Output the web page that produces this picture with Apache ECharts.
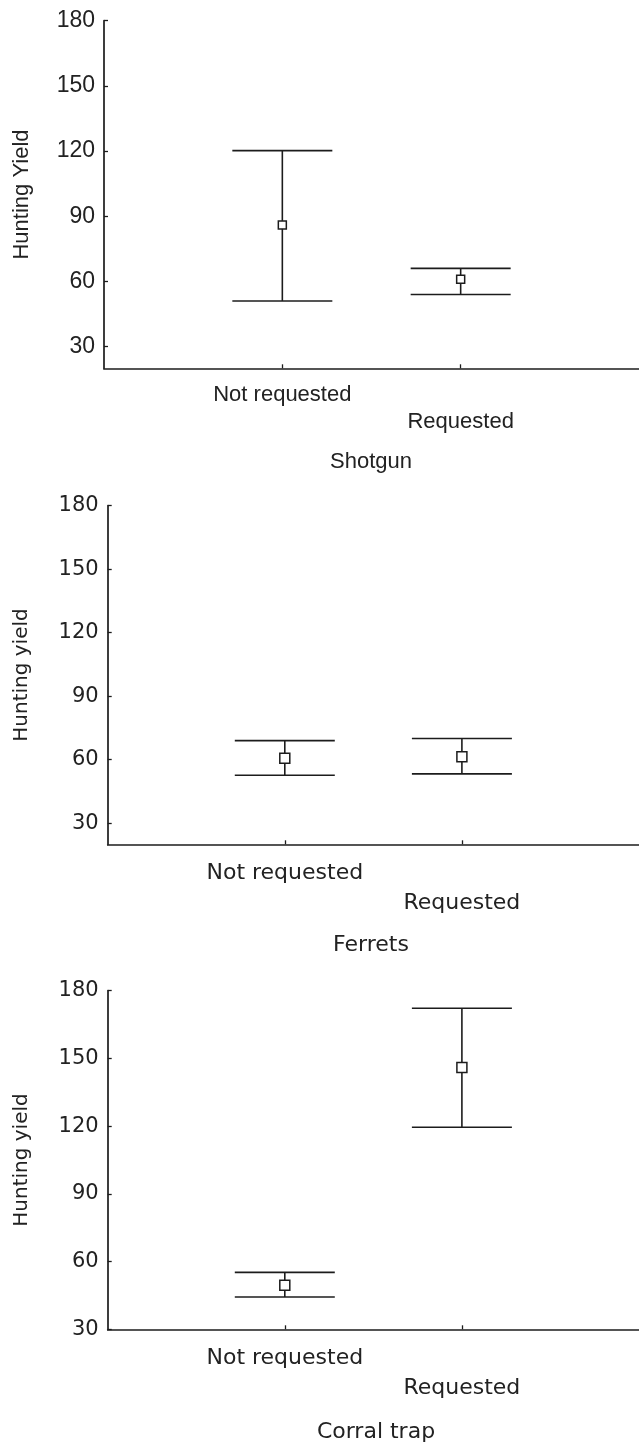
<!DOCTYPE html>
<html><head><meta charset="utf-8">
<script src="https://cdn.jsdelivr.net/npm/echarts@6/dist/echarts.min.js"></script>
<style>html,body{margin:0;padding:0;background:#fff}#c{width:639px;height:1446px}</style>
</head><body><div id="c"></div>
<script>
// ---- data ----
const categories = ['', 'Not requested', 'Requested', ''];
const panelTitles = ['Shotgun', 'Ferrets', 'Corral trap'];
const yAxisTitles = ['Hunting Yield', 'Hunting yield', 'Hunting yield'];
const yTickValues = [30, 60, 90, 120, 150, 180];
const yMin = [20, 20, 30];
const yMax = [180, 180, 180];
// values for [Not requested, Requested]
const shotgunMean = [86, 61];
const shotgunLow = [51, 54];
const shotgunHigh = [120.2, 66];
const ferretsMean = [60.7, 61.4];
const ferretsLow = [52.6, 53.3];
const ferretsHigh = [69, 70];
const corralMean = [49.5, 146];
const corralLow = [44.3, 119.5];
const corralHigh = [55.2, 172.2];

const means = [shotgunMean, ferretsMean, corralMean];
const lows = [shotgunLow, ferretsLow, corralLow];
const highs = [shotgunHigh, ferretsHigh, corralHigh];

// ---- layout / style ----
const grids = [
  {left: 104, top: 20.7, width: 535, height: 347.6},
  {left: 107.7, top: 505.7, width: 531.3, height: 338.6},
  {left: 107.7, top: 990.7, width: 531.3, height: 338.6}
];
const fonts = ['Liberation Sans', 'DejaVu Sans', 'DejaVu Sans'];
const tickFont = [23, 21, 21];
const catFont = [22, 22, 22];
const nameFont = [22, 20, 20];
const catLineH = [27, 30.5, 30.5];
const labelMargin = [13.3, 13.7, 13.7];
const nameGaps = [71, 76, 76];
const markerSize = [8, 10, 10];
const titlePos = [[371, 461.7], [371, 945], [376, 1432]];
const ink = '#1c1c1c';
const textInk = '#222';

const showIdx = (i) => i === 1 || i === 2;

const option = {
  animation: false,
  backgroundColor: '#fff',
  grid: grids.map(g => Object.assign({containLabel: false}, g)),
  xAxis: grids.map((g, k) => ({
    type: 'category', gridIndex: k, data: categories, boundaryGap: false,
    axisLine: {show: true, onZero: false, lineStyle: {color: ink, width: 1.7}},
    axisTick: {show: true, inside: true, length: 4, interval: (i) => showIdx(i), lineStyle: {color: ink, width: 1.3}},
    axisLabel: {
      interval: (i) => showIdx(i), margin: labelMargin[k],
      fontFamily: fonts[k], fontSize: catFont[k], color: textInk, lineHeight: catLineH[k],
      formatter: (v, i) => i === 2 ? '\n' + v : v
    },
    splitLine: {show: false}
  })),
  yAxis: grids.map((g, k) => ({
    type: 'value', gridIndex: k, min: yMin[k], max: yMax[k],
    name: yAxisTitles[k], nameLocation: 'middle', nameRotate: 90, nameGap: nameGaps[k],
    nameTextStyle: {fontFamily: fonts[k], fontSize: nameFont[k], color: textInk},
    axisLine: {show: true, lineStyle: {color: ink, width: 1.7}},
    axisTick: {show: true, inside: true, length: 4, customValues: yTickValues, lineStyle: {color: ink, width: 1.3}},
    axisLabel: {show: true, customValues: yTickValues, margin: 9, fontFamily: fonts[k], fontSize: tickFont[k], color: textInk},
    splitLine: {show: false}
  })),
  graphic: panelTitles.map((t, k) => ({
    type: 'text', x: titlePos[k][0], y: titlePos[k][1],
    style: {text: t, fill: textInk, font: catFont[k] + 'px "' + fonts[k] + '"', align: 'center', verticalAlign: 'middle'}
  })),
  series: []
};

for (let k = 0; k < 3; k++) {
  option.series.push({
    type: 'custom', xAxisIndex: k, yAxisIndex: k, clip: false,
    data: [[1, lows[k][0], highs[k][0]], [2, lows[k][1], highs[k][1]]],
    renderItem: function (params, api) {
      const x = api.value(0);
      const lo = api.coord([x, api.value(1)]);
      const hi = api.coord([x, api.value(2)]);
      const hw = 50;
      const style = {stroke: ink, lineWidth: 1.6, fill: null};
      return {type: 'group', children: [
        {type: 'line', shape: {x1: lo[0], y1: lo[1], x2: hi[0], y2: hi[1]}, style: style},
        {type: 'line', shape: {x1: lo[0] - hw, y1: lo[1], x2: lo[0] + hw, y2: lo[1]}, style: style},
        {type: 'line', shape: {x1: hi[0] - hw, y1: hi[1], x2: hi[0] + hw, y2: hi[1]}, style: style}
      ]};
    },
    z: 2
  });
  option.series.push({
    type: 'scatter', xAxisIndex: k, yAxisIndex: k,
    data: [[1, means[k][0]], [2, means[k][1]]],
    symbol: 'rect', symbolSize: markerSize[k],
    itemStyle: {color: '#fff', borderColor: ink, borderWidth: 1.5, opacity: 1},
    z: 3
  });
}

const chart = echarts.init(document.getElementById('c'), null, {renderer: 'canvas'});
chart.setOption(option);
</script>
</body></html>
